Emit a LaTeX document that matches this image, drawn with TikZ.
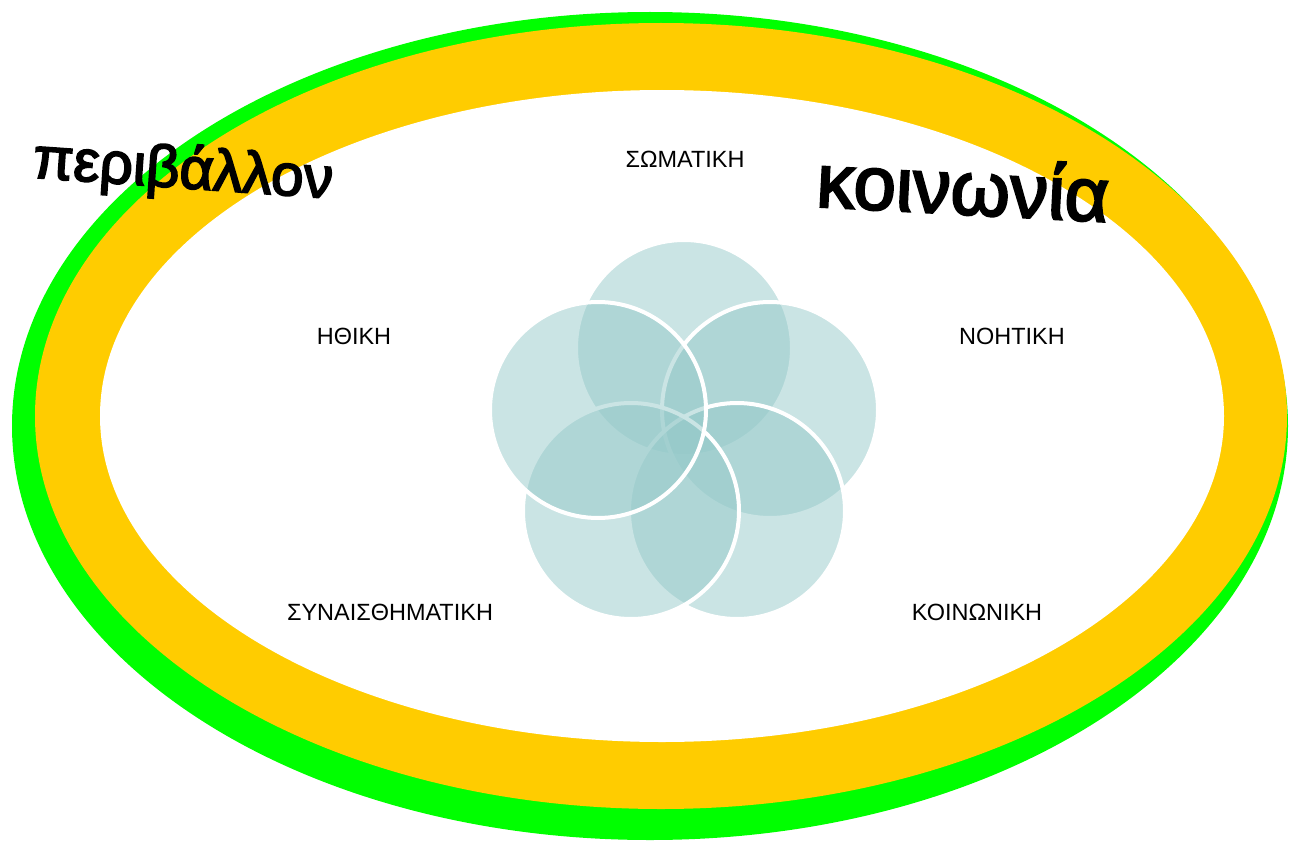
\documentclass[tikz,border=0pt]{standalone}
\usepackage{fontspec}
\setmainfont{Liberation Sans}
\newfontfamily\fatfont{Liberation Sans}[FakeBold=3]
\usetikzlibrary{positioning}

\definecolor{outergreen}{RGB}{0,255,0}
\definecolor{ringyellow}{RGB}{255,204,0}
\definecolor{petalfill}{RGB}{150,202,202}

\tikzset{
  petal/.style={circle, draw=white, line width=3pt, fill=petalfill, fill opacity=0.5, draw opacity=1, inner sep=0pt, minimum size=162pt},
  aspect/.style={font=\fontsize{17.6}{20}\selectfont, inner sep=0pt},
  bigword/.style={inner sep=0pt}
}

\begin{document}
\begin{tikzpicture}[x=0.75pt,y=-0.75pt]
    \useasboundingbox (0,0) rectangle (1289,842);
    % rings
    \fill[outergreen] (650,426) ellipse [x radius=638, y radius=414];
    \fill[ringyellow] (661,416) ellipse [x radius=626, y radius=393];
    \fill[white] (662,416) ellipse [x radius=562, y radius=326];

    % five circles
    \node[petal] (soma) at (684,348) {};
    \node[petal] (noisi) at (770,410) {};
    \node[petal] (koini) at (737,511) {};
    \node[petal] (synai) at (631,511) {};
    \node[petal] (ithiki) at (598,410) {};

    % labels
    \node[aspect] (lsoma) at (685,159) {ΣΩΜΑΤΙΚΗ};
    \node[aspect] (lithiki) at (354,336) {ΗΘΙΚΗ};
    \node[aspect] (lnoisi) at (1012,336) {ΝΟΗΤΙΚΗ};
    \node[aspect] (lsynai) at (390,612) {ΣΥΝΑΙΣΘΗΜΑΤΙΚΗ};
    \node[aspect] (lkoini) at (977,612) {ΚΟΙΝΩΝΙΚΗ};

    \node[bigword, font=\fatfont\fontsize{44}{50}\selectfont, rotate=-4] (env) at (183,172) {περιβάλλον};
    \node[bigword, font=\fatfont\fontsize{57}{64}\selectfont, rotate=-3] (soc) at (963,186) {κοινωνία};
\end{tikzpicture}
\end{document}
